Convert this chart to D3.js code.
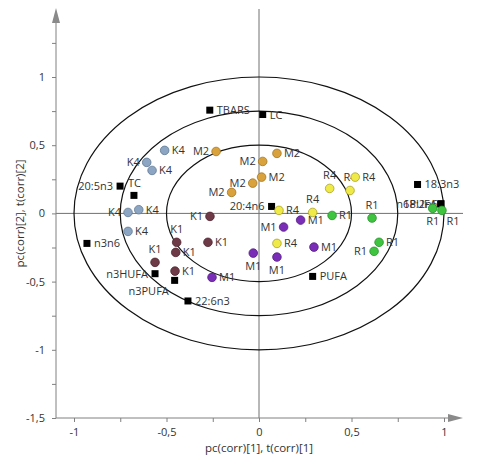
<!DOCTYPE html>
<html>
<head>
<meta charset="utf-8">
<script src="https://cdn.jsdelivr.net/npm/d3@7"></script>
<style>
  body { margin: 0; background: #fff; }
  svg text { font-family: "Open Sans", "Noto Sans", sans-serif; fill: #333; }
</style>
</head>
<body>
<svg id="plot"></svg>
<script>
// sample scores, six per group
let sampleLabel = ["K4","K4","K4","K4","K4","K4",
                   "K1","K1","K1","K1","K1","K1",
                   "M1","M1","M1","M1","M1","M1",
                   "M2","M2","M2","M2","M2","M2",
                   "R4","R4","R4","R4","R4","R4",
                   "R1","R1","R1","R1","R1","R1"];
let sampleX = [-0.51, -0.607, -0.578, -0.65, -0.708, -0.708,
               -0.265, -0.445, -0.276, -0.45, -0.562, -0.454,
               -0.254, -0.031, 0.097, 0.297, 0.133, 0.225,
               -0.232, -0.148, 0.097, 0.02, 0.014, -0.034,
               0.108, 0.29, 0.382, 0.492, 0.52, 0.097,
               0.395, 0.611, 0.939, 0.989, 0.649, 0.622];
let sampleY = [0.462, 0.374, 0.315, 0.027, 0.007, -0.132,
               -0.022, -0.212, -0.212, -0.286, -0.359, -0.423,
               -0.469, -0.291, -0.32, -0.247, -0.1, -0.049,
               0.454, 0.154, 0.44, 0.381, 0.266, 0.222,
               0.022, 0.007, 0.183, 0.168, 0.266, -0.22,
               -0.015, -0.034, 0.037, 0.022, -0.212, -0.278];

// variable loadings
let varNames = ["TBARS","LC","20:5n3","TC","20:4n6","18:3n3","18:2n6","n6PUFA",
                "n3n6","n3HUFA","n3PUFA","22:6n3","PUFA"];
let varX = [-0.266, 0.02, -0.751, -0.676, 0.068, 0.857, 0.984, 0.982,
            -0.93, -0.562, -0.456, -0.384, 0.29];
let varY = [0.757, 0.725, 0.20, 0.132, 0.051, 0.212, 0.071, 0.069,
            -0.22, -0.442, -0.491, -0.642, -0.462];

let circleRadii = [0.5, 0.75, 1];

// label placement (kept apart from the data)
let sampleSide = ["r","l","r","r","l","r",
                  "l","a","r","r","a","r",
                  "r","b","b","r","l","r",
                  "l","l","r","l","r","l",
                  "r","a","a","a","r","r",
                  "r","a","b","br","r","l"];
let varSide = ["r","r","l","tc","l","r","l18","l6","r","l","bl","r","r"];

let groupFill = {K4: "#8ba5c2", K1: "#6e3a48", M1: "#7a2db6", M2: "#d9a23c", R4: "#f0ea48", R1: "#3ec43e"};
let groupStroke = {K4: "#5f7a94", K1: "#4e2530", M1: "#561e84", M2: "#a3761f", R4: "#a9a222", R1: "#24922a"};

let width = 480, height = 466;
let svg = d3.select("#plot").attr("width", width).attr("height", height);

let x = d3.scaleLinear().domain([-1, 1]).range([74, 444]);
let y = d3.scaleLinear().domain([-1.5, 1]).range([418, 77]);

let axLeft = 56, axBottom = 418, axTop = 8, axRight = 463;
let locale = d3.formatLocale({decimal: ",", thousands: " ", grouping: [3], currency: ["", ""], minus: "-"});
let fmt = locale.format("~g");

// zero lines
svg.append("line").attr("x1", x(0)).attr("x2", x(0)).attr("y1", axTop + 1).attr("y2", axBottom)
   .attr("stroke", "#707070").attr("stroke-width", 1);
svg.append("line").attr("x1", axLeft).attr("x2", axRight).attr("y1", y(0)).attr("y2", y(0))
   .attr("stroke", "#707070").attr("stroke-width", 1);

// axes
let yTicks = d3.range(-6, 6).map(d => d / 4);
let xTicks = d3.range(-4, 5).map(d => d / 4);
let yAxis = svg.append("g").attr("transform", "translate(" + axLeft + ",0)")
   .call(d3.axisLeft(y).tickValues(yTicks).tickSize(4).tickPadding(7)
         .tickFormat(d => (d * 2) % 1 === 0 ? fmt(d) : ""));
let xAxis = svg.append("g").attr("transform", "translate(0," + axBottom + ")")
   .call(d3.axisBottom(x).tickValues(xTicks).tickSize(4).tickPadding(6)
         .tickFormat(d => (d * 2) % 1 === 0 ? fmt(d) : ""));
[yAxis, xAxis].forEach(a => {
  a.select(".domain").remove();
  a.selectAll("line").attr("stroke", "#808080");
  a.selectAll("text").style("font-size", "11px").attr("fill", "#333");
});

svg.append("line").attr("x1", axLeft).attr("x2", axLeft).attr("y1", axTop + 10).attr("y2", axBottom)
   .attr("stroke", "#808080");
svg.append("line").attr("x1", axLeft).attr("x2", axRight - 10).attr("y1", axBottom).attr("y2", axBottom)
   .attr("stroke", "#808080");
svg.append("path").attr("d", "M" + axLeft + "," + axTop + "L" + (axLeft - 4) + "," + (axTop + 15) + "L" + (axLeft + 4) + "," + (axTop + 15) + "Z")
   .attr("fill", "#8a8a8a");
svg.append("path").attr("d", "M" + axRight + "," + axBottom + "L" + (axRight - 15) + "," + (axBottom - 4) + "L" + (axRight - 15) + "," + (axBottom + 4) + "Z")
   .attr("fill", "#8a8a8a");

// axis titles
svg.append("text").attr("x", x(0)).attr("y", 452).attr("text-anchor", "middle")
   .style("font-size", "11.5px").text("pc(corr)[1], t(corr)[1]");
svg.append("text").attr("transform", "translate(24," + y(0) + ") rotate(-90)").attr("text-anchor", "middle")
   .style("font-size", "11.5px").text("pc(corr)[2], t(corr)[2]");

// correlation circles
svg.selectAll("ellipse.ring")
   .data(circleRadii)
   .enter()
   .append("ellipse")
   .attr("class", "ring")
   .attr("cx", x(0)).attr("cy", y(0))
   .attr("rx", d => x(d) - x(0))
   .attr("ry", d => y(0) - y(d))
   .attr("fill", "none")
   .attr("stroke", "#111")
   .attr("stroke-width", 1.2);

let labelPos = function (side, px, py) {
  let o = {x: px + 7, y: py + 4, a: "start"};
  if (side === "l") o = {x: px - 7, y: py + 4, a: "end"};
  if (side === "a") o = {x: px, y: py - 9, a: "middle"};
  if (side === "b") o = {x: px, y: py + 17, a: "middle"};
  if (side === "br") o = {x: px + 11, y: py + 15, a: "middle"};
  if (side === "tc") o = {x: px - 6, y: py - 8, a: "start"};
  if (side === "bl") o = {x: px - 26, y: py + 15, a: "middle"};
  if (side === "l18") o = {x: px - 3, y: py + 4, a: "end"};
  if (side === "l6") o = {x: px - 4, y: py + 4, a: "end"};
  return o;
};

// loadings as squares
let vars = varNames.map((n, i) => ({name: n, x: varX[i], y: varY[i], side: varSide[i]}));
svg.selectAll("text.vlab")
   .data(vars)
   .enter()
   .append("text")
   .attr("class", "vlab")
   .each(function (d) {
     let p = labelPos(d.side, x(d.x), y(d.y));
     d3.select(this).attr("x", p.x).attr("y", p.y).attr("text-anchor", p.a);
   })
   .style("font-size", "11px")
   .text(d => d.name);
svg.selectAll("rect.var")
   .data(vars)
   .enter()
   .append("rect")
   .attr("class", "var")
   .attr("x", d => x(d.x) - 3.5)
   .attr("y", d => y(d.y) - 3.5)
   .attr("width", 7).attr("height", 7)
   .attr("fill", "#000");

// scores as circles
let samples = sampleLabel.map((g, i) => ({g: g, x: sampleX[i], y: sampleY[i], side: sampleSide[i]}));
svg.selectAll("text.slab")
   .data(samples)
   .enter()
   .append("text")
   .attr("class", "slab")
   .each(function (d) {
     let p = labelPos(d.side, x(d.x), y(d.y));
     d3.select(this).attr("x", p.x).attr("y", p.y).attr("text-anchor", p.a);
   })
   .style("font-size", "11px")
   .text(d => d.g);
svg.selectAll("circle.pt")
   .data(samples)
   .enter()
   .append("circle")
   .attr("class", "pt")
   .attr("cx", d => x(d.x))
   .attr("cy", d => y(d.y))
   .attr("r", 4.3)
   .attr("fill", d => groupFill[d.g])
   .attr("stroke", d => groupStroke[d.g])
   .attr("stroke-width", 0.8);
</script>
</body>
</html>
